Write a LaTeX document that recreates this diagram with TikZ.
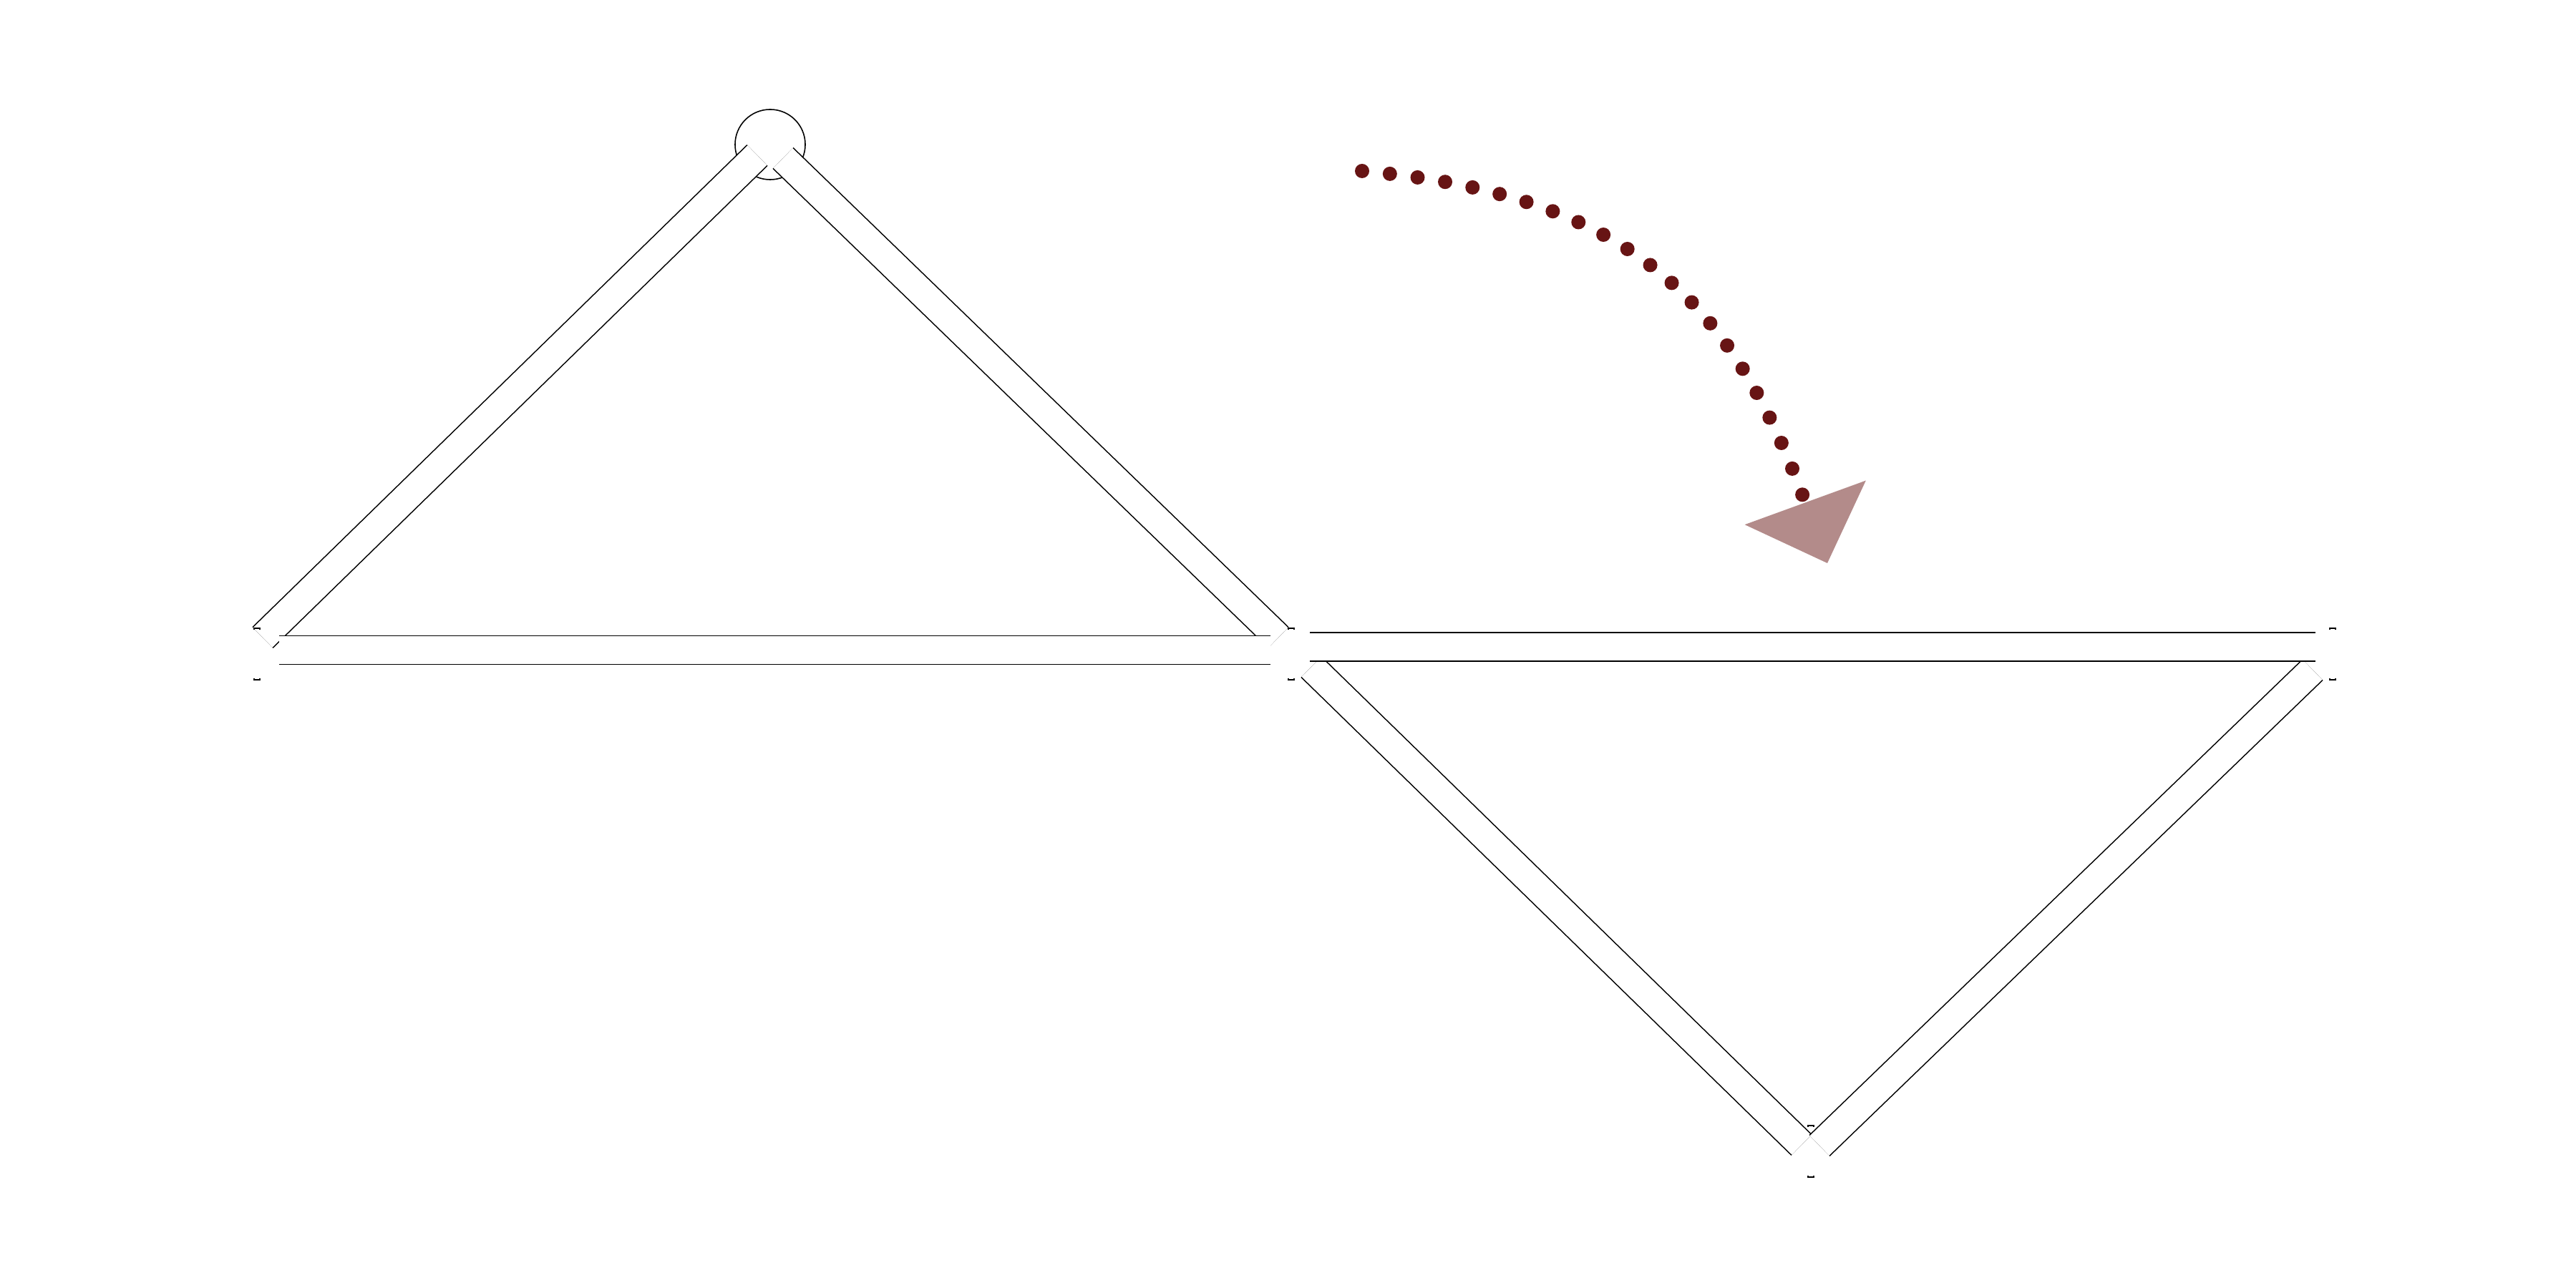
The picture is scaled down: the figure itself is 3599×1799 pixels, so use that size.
\documentclass[tikz,border=0pt]{standalone}
\usepackage{tikz}
\usetikzlibrary{arrows.meta}
\definecolor{turnred}{HTML}{671414}
\definecolor{tipred}{HTML}{B38B8A}

\begin{document}
\begin{tikzpicture}[x=0.01cm,y=0.01cm,
	bar/.style={line width=0.45pt,double=white,double distance=0.385cm},
	hinge/.style={circle,draw,line width=0.45pt,minimum size=0.98cm,inner sep=0pt},
	pin/.style={line width=0.45pt},
	turn/.style={turnred,line width=0.2cm,line cap=round,dash pattern=on 0pt off 0.39cm}]
\useasboundingbox (0,0) rectangle (3599,1799);

\node[hinge] (B) at (1076,1597) {};

\path (359,885) coordinate (A)
		(1804,885) coordinate (C)
		(3259,885) coordinate (D)
		(2530,190) coordinate (E)
		(367,908) coordinate (ab-)
		(1058,1582) coordinate (ab+)
		(1094,1578) coordinate (bc-)
		(1786,908) coordinate (bc+)
		(390,890.5) coordinate (ac-)
		(1775,890.5) coordinate (ac+)
		(1832,867) coordinate (ce-)
		(2517,199) coordinate (ce+)
		(2542,198) coordinate (ed-)
		(3231,863) coordinate (ed+)
		(1830,895) coordinate (cd-)
		(3235,895) coordinate (cd+)
		(1903,1560) coordinate (arr-)
		(2553,1012) coordinate (arr+);

\draw[bar] (node cs:name=ab-) -- (node cs:name=ab+);
\draw[bar] (node cs:name=bc-) -- (node cs:name=bc+);
\draw[bar] (node cs:name=ce-) -- (node cs:name=ce+);
\draw[bar] (node cs:name=ed-) -- (node cs:name=ed+);
\draw[bar] (node cs:name=ac-) -- (node cs:name=ac+);
\draw[bar] (node cs:name=cd-) -- (node cs:name=cd+);

\foreach \p in {A,C,D,E} {
	\draw[pin] ([shift={(-4,34)}]\p) -- ++(0,2) -- ++(8,0) -- ++(0,-2);
	\draw[pin] ([shift={(-4,-34)}]\p) -- ++(0,-2) -- ++(8,0) -- ++(0,2);
}

\draw[turn,-{Triangle[length=0.9cm,width=1.8cm,color=tipred,fill=tipred,line width=0pt]}]
	(node cs:name=arr-) to[out=-5,in=110,looseness=1.15] (node cs:name=arr+);
\end{tikzpicture}
\end{document}
